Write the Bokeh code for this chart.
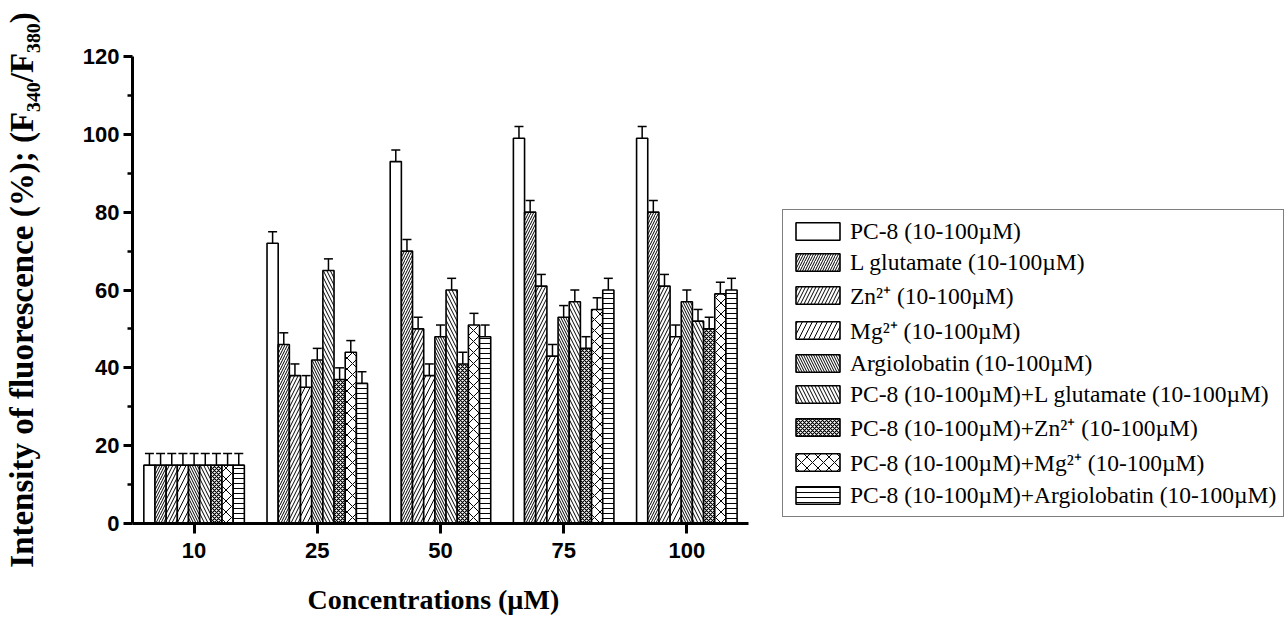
from bokeh.plotting import figure
from bokeh.models import (Range1d, FixedTicker, Legend, LegendItem, Whisker,
                          ColumnDataSource, TeeHead, Title)
from bokeh.embed import file_html
from bokeh.resources import INLINE

# ---------------- data ----------------
concentrations = ["10", "25", "50", "75", "100"]

series_names = [
    "PC-8 (10-100µM)",
    "L glutamate (10-100µM)",
    "Zn²⁺ (10-100µM)",
    "Mg²⁺ (10-100µM)",
    "Argiolobatin (10-100µM)",
    "PC-8 (10-100µM)+L glutamate (10-100µM)",
    "PC-8 (10-100µM)+Zn²⁺ (10-100µM)",
    "PC-8 (10-100µM)+Mg²⁺ (10-100µM)",
    "PC-8 (10-100µM)+Argiolobatin (10-100µM)",
]

pc8 = [15, 72, 93, 99, 99]
l_glutamate = [15, 46, 70, 80, 80]
zn = [15, 38, 50, 61, 61]
mg = [15, 35, 38, 43, 48]
argiolobatin = [15, 42, 48, 53, 57]
pc8_l_glutamate = [15, 65, 60, 57, 52]
pc8_zn = [15, 37, 41, 45, 50]
pc8_mg = [15, 44, 51, 55, 59]
pc8_argiolobatin = [15, 36, 48, 60, 60]

pc8_err = [3, 3, 3, 3, 3]
l_glutamate_err = [3, 3, 3, 3, 3]
zn_err = [3, 3, 3, 3, 3]
mg_err = [3, 3, 3, 3, 3]
argiolobatin_err = [3, 3, 3, 3, 3]
pc8_l_glutamate_err = [3, 3, 3, 3, 3]
pc8_zn_err = [3, 3, 3, 3, 3]
pc8_mg_err = [3, 3, 3, 3, 3]
pc8_argiolobatin_err = [3, 3, 3, 3, 3]

series_values = [pc8, l_glutamate, zn, mg, argiolobatin,
                 pc8_l_glutamate, pc8_zn, pc8_mg, pc8_argiolobatin]
series_errors = [pc8_err, l_glutamate_err, zn_err, mg_err, argiolobatin_err,
                 pc8_l_glutamate_err, pc8_zn_err, pc8_mg_err, pc8_argiolobatin_err]

y_ticks = [0, 20, 40, 60, 80, 100, 120]
y_minor_ticks = [10, 30, 50, 70, 90, 110]

x_title = "Concentrations (µM)"
y_title = "Intensity of fluorescence (%); (F₃₄₀/F₃₈₀)"

# ---------------- styles ----------------
hatches = [
    dict(hatch_pattern=" ", hatch_scale=12, hatch_weight=1),
    dict(hatch_pattern="/", hatch_scale=5, hatch_weight=1),
    dict(hatch_pattern="/", hatch_scale=7, hatch_weight=1),
    dict(hatch_pattern="/", hatch_scale=10, hatch_weight=1),
    dict(hatch_pattern="\\", hatch_scale=5, hatch_weight=1),
    dict(hatch_pattern="\\", hatch_scale=7, hatch_weight=1),
    dict(hatch_pattern="x", hatch_scale=4, hatch_weight=1.2),
    dict(hatch_pattern="x", hatch_scale=11, hatch_weight=1),
    dict(hatch_pattern="-", hatch_scale=5, hatch_weight=1),
]

n_series = len(series_names)
group_width = 0.816
bar_w = group_width / n_series

W, H = 1284, 622
LEFT, TOP, BOTTOM = 130, 56, 99
PLOT_W = 617                      # width of the bar area (x axis length)
n_cat = len(concentrations)
frame_w = W - LEFT
x_end = n_cat * frame_w / PLOT_W  # frame extends right so the legend sits inside it

p = figure(width=W, height=H, output_backend="svg", toolbar_location=None,
           x_range=Range1d(0, x_end), y_range=Range1d(0, 120),
           min_border_left=LEFT, min_border_top=TOP, min_border_bottom=BOTTOM,
           min_border_right=0)
p.grid.visible = False
p.outline_line_color = None
p.background_fill_color = "white"
p.border_fill_color = "white"

items = []
for j in range(n_series):
    xs = [i + 0.5 + (j - (n_series - 1) / 2) * bar_w for i in range(n_cat)]
    vals = series_values[j]
    errs = series_errors[j]
    src = ColumnDataSource(dict(
        x=xs, top=vals,
        upper=[v + e for v, e in zip(vals, errs)],
        lower=[v - e for v, e in zip(vals, errs)],
    ))
    r = p.vbar(x="x", top="top", bottom=0, width=bar_w, source=src,
               fill_color="white", line_color="black", line_width=1.6,
               hatch_color="black", **hatches[j])
    w = Whisker(source=src, base="x", upper="upper", lower="lower",
                dimension="height", line_color="black", line_width=1.5,
                upper_head=TeeHead(size=9, line_width=1.5, line_color="black"),
                lower_head=TeeHead(size=9, line_width=1.5, line_color="black"))
    p.add_layout(w)
    items.append(LegendItem(label=series_names[j], renderers=[r]))

# ---------------- axes ----------------
p.xaxis.bounds = (0, n_cat)
p.xaxis.ticker = FixedTicker(ticks=[i + 0.5 for i in range(n_cat)])
p.xaxis.major_label_overrides = {i + 0.5: c for i, c in enumerate(concentrations)}
p.xaxis.minor_tick_line_color = None
p.yaxis.ticker = FixedTicker(ticks=y_ticks, minor_ticks=y_minor_ticks)

for ax in (p.xaxis, p.yaxis):
    ax.axis_line_width = 3
    ax.axis_line_color = "black"
    ax.major_tick_line_width = 3
    ax.major_tick_line_color = "black"
    ax.major_tick_in = 0
    ax.major_label_text_font = "Liberation Sans"
    ax.major_label_text_font_style = "bold"
    ax.major_label_text_font_size = "22px"
    ax.major_label_text_color = "black"
    ax.axis_label_text_font = "Liberation Serif"
    ax.axis_label_text_font_style = "bold"
    ax.axis_label_text_color = "black"

p.yaxis.major_tick_out = 9
p.xaxis.major_tick_out = 10
p.yaxis.minor_tick_in = 0
p.yaxis.minor_tick_out = 5
p.yaxis.minor_tick_line_width = 2.5
p.yaxis.minor_tick_line_color = "black"
p.yaxis.major_label_standoff = 4
p.xaxis.major_label_standoff = 9

# blank spacer label under the x tick labels (real title drawn below)
p.xaxis.axis_label = " "
p.xaxis.axis_label_text_font_size = "12px"
p.xaxis.axis_label_standoff = 0

p.yaxis.axis_label = y_title
p.yaxis.axis_label_text_font_size = "33px"
p.yaxis.axis_label_standoff = 40

# x-axis title centred under the bar area (not under the whole frame)
xt = Title(text=x_title, align="left", offset=175, standoff=8,
           text_font="Liberation Serif", text_font_style="bold",
           text_font_size="28px", text_color="black")
p.add_layout(xt, "below")

# ---------------- legend ----------------
legend = Legend(items=items, location=(650, 6), margin=0, padding=7,
                glyph_width=55, glyph_height=22, label_standoff=5,
                label_height=28, spacing=3,
                label_text_font="Liberation Serif", label_text_font_size="23.5px",
                label_text_color="black",
                border_line_color="black", border_line_width=1.5,
                background_fill_color="white", background_fill_alpha=1)
p.add_layout(legend)

open("out.html", "w").write(file_html(p, INLINE))
